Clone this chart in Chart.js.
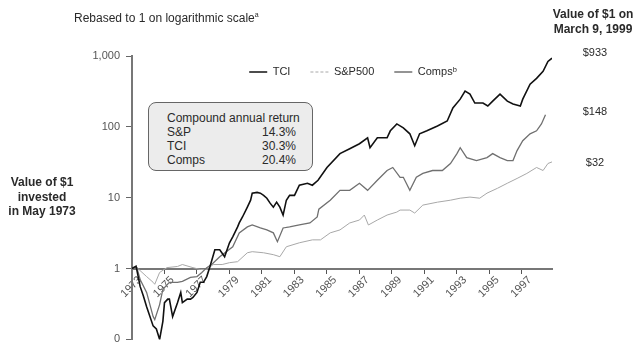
<!DOCTYPE html>
<html>
<head>
<meta charset="utf-8">
<script src="https://cdn.jsdelivr.net/npm/chart.js@4"></script>
<style>
  body { margin: 0; background: #fff; font-family: "Liberation Sans", Arial, sans-serif; color: #2a2a2a; }
  #wrap { position: relative; width: 636px; height: 352px; }
  #chart { position: absolute; left: 0; top: 0; }
  .note { position: absolute; white-space: nowrap; }
  .note sup { font-size: 7px; vertical-align: 5px; line-height: 0; }
  #returns { position: absolute; left: 148px; top: 102px; width: 163px; height: 67px;
             border: 1px solid #666; border-radius: 8px; background: #ececec; font-size: 12px; }
  #returns table { position: absolute; left: 18px; top: 8px; width: 137px; border-collapse: collapse; white-space: nowrap; }
  #returns td { padding: 0; line-height: 14px; }
  #returns td.v { text-align: right; padding-right: 8px; }
</style>
</head>
<body>
<div id="wrap">
  <canvas id="chart" width="636" height="352"></canvas>

  <div class="note" style="left:74px; top:11px; font-size:12px; line-height:14px;">Rebased to 1 on logarithmic scale<sup>a</sup></div>
  <div class="note" style="left:548px; top:7px; width:90px; text-align:center; font-size:12px; font-weight:bold; line-height:15px;">Value of $1 on<br>March 9, 1999</div>
  <div class="note" style="left:0px; top:175px; width:84px; text-align:center; font-size:12px; font-weight:bold; line-height:14.5px;">Value of $1<br>invested<br>in May 1973</div>
  <div class="note" style="left:575px; top:46px; width:40px; text-align:center; font-size:11px;">$933</div>
  <div class="note" style="left:575px; top:105px; width:40px; text-align:center; font-size:11px;">$148</div>
  <div class="note" style="left:575px; top:156px; width:40px; text-align:center; font-size:11px;">$32</div>

  <div id="returns">
    <table>
      <tr><td colspan="2">Compound annual return</td></tr>
      <tr><td>S&amp;P</td><td class="v">14.3%</td></tr>
      <tr><td>TCI</td><td class="v">30.3%</td></tr>
      <tr><td>Comps</td><td class="v">20.4%</td></tr>
    </table>
  </div>
</div>

<script>
// Value of $1 invested in May 1973
const tciYears = [1973.0, 1973.25, 1973.5, 1973.7, 1973.9, 1974.3, 1974.5, 1974.7, 1974.9, 1975.0,
  1975.2, 1975.3, 1975.5, 1975.8, 1976.0, 1976.1, 1976.4, 1976.6, 1976.75, 1977.0,
  1977.2, 1977.4, 1977.6, 1977.8, 1978.1, 1978.4, 1978.7, 1979.0, 1979.2, 1979.5,
  1979.6, 1979.8, 1980.1, 1980.3, 1980.4, 1980.7, 1980.9, 1981.1, 1981.3, 1981.5,
  1981.7, 1981.9, 1982.1, 1982.3, 1982.5, 1982.7, 1983.0, 1983.3, 1983.8, 1984.1,
  1984.45, 1985.0, 1985.8, 1986.4, 1987.0, 1987.5, 1987.65, 1988.1, 1988.7, 1988.9,
  1989.3, 1989.7, 1990.1, 1990.4, 1990.7, 1991.15, 1991.8, 1992.4, 1992.75, 1993.2,
  1993.5, 1993.8, 1994.1, 1994.6, 1994.9, 1995.2, 1995.65, 1996.1, 1996.45, 1996.9,
  1997.05, 1997.5, 1997.9, 1998.3, 1998.6, 1998.85];
const tciValues = [1.00, 1.08, 0.56, 0.41, 0.29, 0.155, 0.14, 0.10, 0.18, 0.33,
  0.37, 0.37, 0.21, 0.33, 0.46, 0.33, 0.37, 0.37, 0.39, 0.46,
  0.64, 0.64, 0.77, 1.07, 1.84, 1.84, 1.47, 2.31, 2.80, 3.87,
  4.40, 5.34, 7.36, 9.22, 11.6, 11.9, 11.6, 10.8, 9.84, 8.38,
  7.36, 8.65, 7.36, 5.69, 9.22, 10.8, 10.8, 15.0, 16.0, 15.0,
  17.6, 26.7, 41.9, 49.2, 57.8, 70.2, 50.8, 70.2, 70.2, 87.9,
  110, 96.8, 79.8, 54.2, 79.8, 87.9, 103, 121, 185, 246,
  319, 290, 217, 217, 197, 231, 290, 231, 210, 197,
  246, 399, 484, 607, 838, 933];

const spYears = [1973.0, 1973.3, 1973.9, 1974.3, 1974.4, 1974.7, 1975.15, 1975.8, 1976.1, 1976.75,
  1977.2, 1977.6, 1978.0, 1978.55, 1979.0, 1979.5, 1980.1, 1980.4, 1981.1, 1981.7,
  1982.1, 1982.5, 1983.3, 1984.1, 1984.6, 1985.2, 1985.8, 1986.4, 1987.0, 1987.3,
  1987.55, 1988.1, 1988.7, 1989.3, 1989.5, 1990.1, 1990.4, 1990.9, 1991.8, 1992.6,
  1993.2, 1993.8, 1994.4, 1994.85, 1995.5, 1996.1, 1996.7, 1997.3, 1997.9, 1998.3,
  1998.6, 1998.85];
const spValues = [1.00, 1.03, 0.77, 0.64, 0.60, 0.88, 1.03, 1.07, 1.14, 1.03,
  0.97, 0.97, 1.14, 1.14, 1.21, 1.25, 1.67, 1.73, 1.67, 1.57,
  1.47, 2.03, 2.31, 2.54, 2.54, 3.19, 3.51, 4.40, 4.84, 5.69,
  4.12, 4.84, 5.69, 6.27, 6.69, 6.69, 6.07, 7.86, 8.65, 9.22,
  9.84, 10.2, 9.84, 11.6, 13.6, 16.0, 18.7, 22.0, 26.7, 24.2,
  30.4, 32];

const compsYears = [1973.0, 1973.3, 1973.5, 1973.9, 1974.3, 1974.4, 1974.7, 1974.9, 1975.3, 1975.8,
  1976.1, 1976.6, 1977.0, 1977.3, 1977.6, 1977.9, 1978.4, 1979.2, 1979.6, 1980.1,
  1980.4, 1980.9, 1981.3, 1981.7, 1981.95, 1982.3, 1982.7, 1983.3, 1983.95, 1984.4,
  1984.5, 1985.2, 1985.8, 1986.4, 1987.0, 1987.5, 1988.1, 1988.7, 1989.05, 1989.5,
  1989.7, 1990.1, 1990.5, 1990.9, 1991.5, 1992.1, 1992.6, 1993.0, 1993.2, 1993.6,
  1994.2, 1994.85, 1995.2, 1995.65, 1996.1, 1996.45, 1996.7, 1997.05, 1997.5, 1997.9,
  1998.2, 1998.45];
const compsValues = [1.00, 1.03, 0.70, 0.46, 0.21, 0.19, 0.31, 0.51, 0.64, 0.64,
  0.66, 0.75, 0.77, 0.88, 1.03, 1.14, 1.47, 2.03, 3.19, 3.87,
  4.12, 3.74, 3.51, 3.19, 2.39, 3.74, 3.87, 4.12, 4.40, 5.34,
  6.90, 9.22, 12.7, 12.7, 16.0, 12.7, 17.6, 24.2, 26.7, 19.4,
  19.4, 12.7, 19.4, 22.0, 24.2, 24.2, 30.4, 41.9, 50.8, 36.8,
  33.4, 36.8, 41.9, 36.8, 33.4, 33.4, 46.2, 63.7, 79.8, 87.9,
  110, 148];

const xTickYears = [1973, 1975, 1977, 1979, 1981, 1983, 1985, 1987, 1989, 1991, 1993, 1995, 1997];
const yTickValues = [0.1, 1, 10, 100, 1000];
const yTickLabels = ['0', '1', '10', '100', '1,000'];

function toPoints(xs, ys) {
    return xs.map((x, i) => ({ x: x, y: ys[i] }));
}

// put the legend inside the plot, just under the 1,000 line
const legendNudge = {
    id: 'legendNudge',
    beforeDraw(chart) {
        const lg = chart.legend;
        const h = lg.height;
        lg.top = 72 - lg.options.labels.padding - 5.5;
        lg.bottom = lg.top + h;
        lg.left = chart.chartArea.left + 11;
        lg.right = chart.chartArea.right + 11;
    }
};

Chart.defaults.font.family = '"Liberation Sans", Arial, sans-serif';

const chart = new Chart(document.getElementById('chart'), {
    type: 'line',
    data: {
        datasets: [{
            label: 'TCI',
            data: toPoints(tciYears, tciValues),
            borderColor: '#111',
            borderWidth: 1.6,
            pointRadius: 0,
            order: 0
        }, {
            label: 'S&P500',
            data: toPoints(spYears, spValues),
            borderColor: '#a8a8a8',
            borderWidth: 1,
            pointRadius: 0,
            order: 2
        }, {
            label: 'Comps\u1D47',
            data: toPoints(compsYears, compsValues),
            borderColor: '#707070',
            borderWidth: 1.3,
            pointRadius: 0,
            order: 1
        }]
    },
    options: {
        responsive: false,
        animation: false,
        events: [],
        layout: { padding: { left: 0, right: 84, top: 56, bottom: 10 } },
        plugins: {
            tooltip: { enabled: false },
            legend: {
                position: 'top',
                fullSize: false,
                labels: {
                    usePointStyle: true,
                    pointStyle: 'line',
                    pointStyleWidth: 18,
                    padding: 20,
                    color: '#2a2a2a',
                    font: { size: 11 },
                    sort: (a, b) => a.datasetIndex - b.datasetIndex,
                    generateLabels(chart) {
                        const items = Chart.defaults.plugins.legend.labels.generateLabels(chart);
                        items.forEach(it => {
                            it.pointStyle = 'line';
                            if (it.text === 'S&P500') it.lineDash = [3, 2];
                        });
                        return items;
                    }
                }
            }
        },
        scales: {
            x: {
                type: 'linear',
                position: { y: 1 },
                min: 1973,
                max: 1998.85,
                afterBuildTicks: s => { s.ticks = xTickYears.map(v => ({ value: v })); },
                afterFit: s => { s.height = 0; },
                ticks: {
                    autoSkip: false,
                    minRotation: 45,
                    maxRotation: 45,
                    padding: 1,
                    labelOffset: 8,
                    color: '#555',
                    font: { size: 11 },
                    callback: v => String(v)
                },
                grid: { drawOnChartArea: false, tickLength: 4, color: '#555' },
                border: { color: '#777', width: 2 }
            },
            y: {
                type: 'logarithmic',
                min: 0.1,
                max: 1000,
                afterBuildTicks: s => { s.ticks = yTickValues.map(v => ({ value: v })); },
                afterFit: s => { s.width = 132; },
                ticks: {
                    padding: 6,
                    color: '#555',
                    font: { size: 11 },
                    callback: v => yTickLabels[yTickValues.indexOf(v)]
                },
                grid: { drawOnChartArea: false, tickLength: 6, color: '#666' },
                border: { color: '#777', width: 2 }
            }
        }
    },
    plugins: [legendNudge]
});

// the legend takes layout room; give it back so the plot top sits at y=56
const extra = chart.chartArea.top - 56;
if (extra) {
    chart.options.layout.padding.top -= extra;
    chart.update();
}
</script>
</body>
</html>
